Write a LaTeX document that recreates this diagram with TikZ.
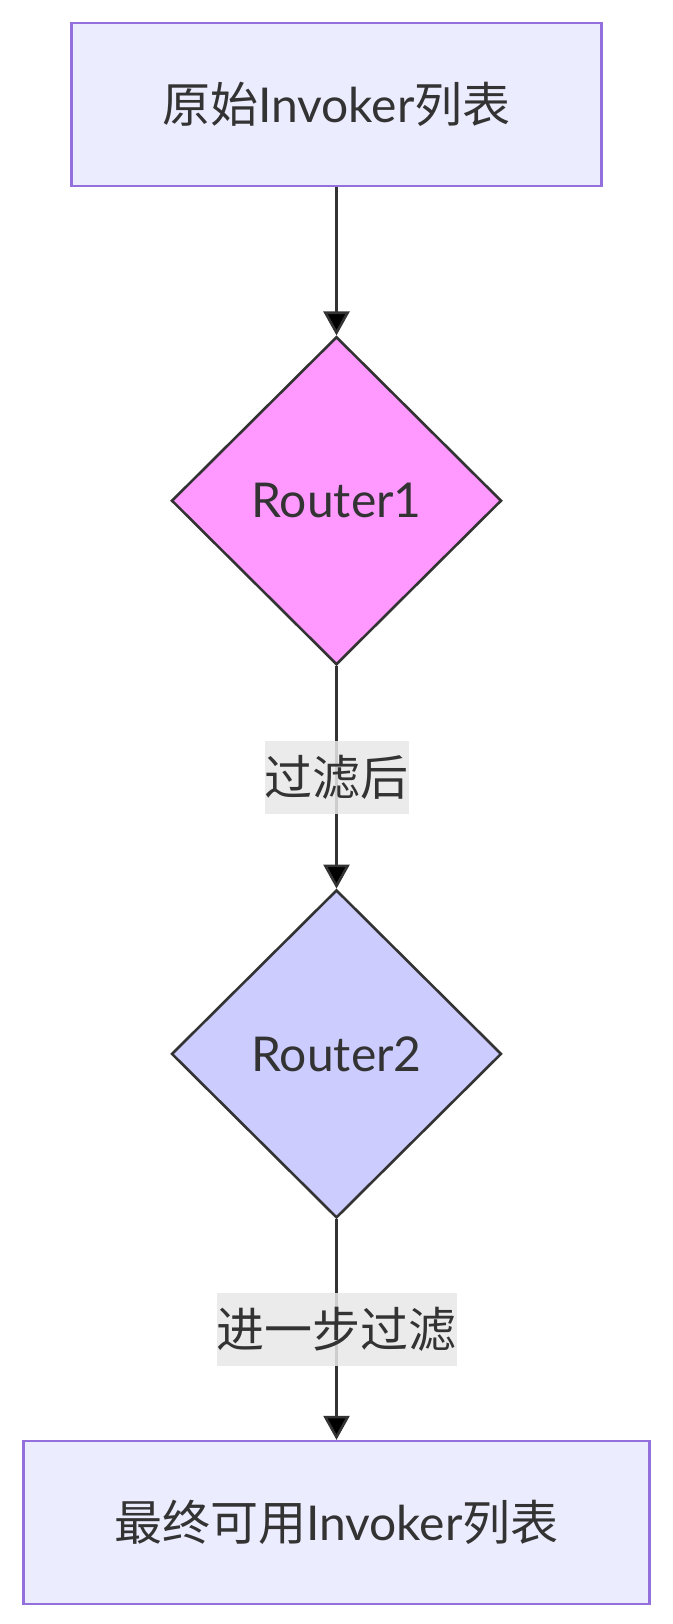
\documentclass[tikz,border=0pt]{standalone}
\usepackage{fontspec}
\setmainfont{Lato}
\newfontfamily\cjk{Noto Sans CJK SC}
\usepackage{tikz}
\usetikzlibrary{shapes}
\usetikzlibrary{positioning}
\usetikzlibrary{arrows.meta}
\definecolor{boxfill}{HTML}{ECECFF}
\definecolor{boxline}{HTML}{9370DB}
\definecolor{pinkfill}{HTML}{FF99FF}
\definecolor{bluefill}{HTML}{CCCCFF}
\definecolor{ink}{HTML}{333333}
\definecolor{lblfill}{HTML}{E8E8E8}
\newcommand{\zh}[1]{{\cjk #1}}
\tikzstyle{listbox}=[rectangle,draw=boxline,fill=boxfill,line width=1.3pt,minimum height=81.5pt,align=center]
\tikzstyle{router}=[diamond,aspect=1,draw=ink,line width=1.3pt,inner sep=0pt,minimum width=165pt,minimum height=164pt]

\begin{document}
\begin{tikzpicture}[font=\fontsize{24}{36}\selectfont,text=ink]

	\tikzstyle{flow}=[-{Triangle[length=12pt,width=13pt]},draw=ink,line width=1.3pt];
	\tikzstyle{edgelbl}=[fill=lblfill,fill opacity=0.85,text opacity=1,inner sep=0pt,minimum height=36.5pt];

	\useasboundingbox (0,0) rectangle (336.5pt,-812pt);

	\node (raw) [listbox,minimum width=265pt] at (168.25pt,-52.3pt) {\zh{原始}Invoker\zh{列表}};
	\node (r1) [router,fill=pinkfill,below=74pt of raw] {Router1};
	\node (r2) [router,fill=bluefill,below=111.3pt of r1] {Router2};
	\node (final) [listbox,minimum width=312.8pt,below=110.3pt of r2] {\zh{最终可用}Invoker\zh{列表}};

	\path[flow]
		(raw) edge (r1)
		(r1) edge node[edgelbl] {\zh{过滤后}} (r2)
		(r2) edge node[edgelbl] {\zh{进一步过滤}} (final);
\end{tikzpicture}
\end{document}
